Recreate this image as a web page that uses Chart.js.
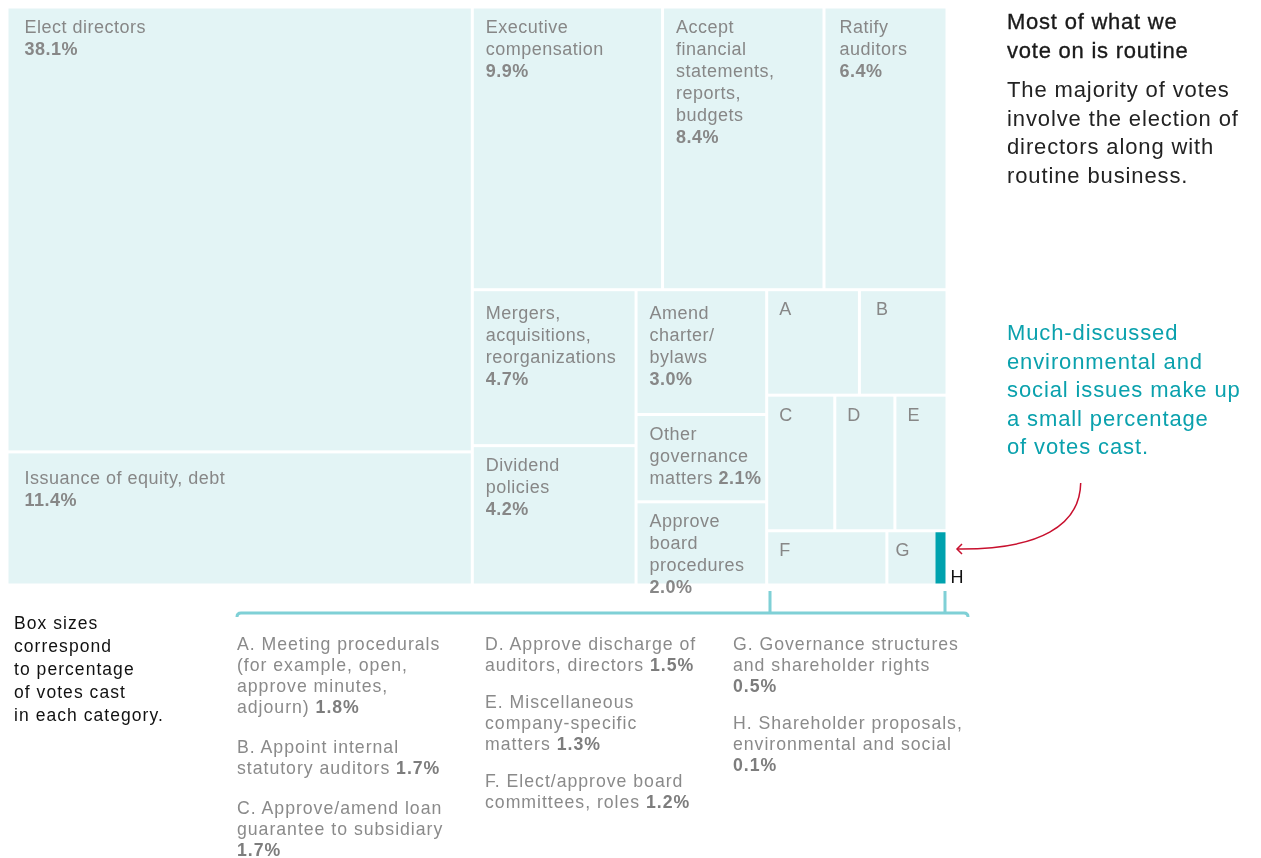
<!DOCTYPE html>
<html>
<head>
<meta charset="utf-8">
<script src="https://cdn.jsdelivr.net/npm/chart.js@4/dist/chart.umd.min.js"></script>
<style>
  body { margin: 0; background: #fff; font-family: "Liberation Sans", Arial, sans-serif; }
  #wrap { position: relative; width: 1261px; height: 858px; overflow: hidden; }
  #wrap canvas, #wrap svg { position: absolute; left: 0; top: 0; }
  .txt { position: absolute; white-space: nowrap; }
  .title { left: 1007px; top: 7px; font-size: 22px; line-height: 29px; color: #1a1a1a; letter-spacing: 0.035em; -webkit-text-stroke: 0.35px #1a1a1a; }
  .body { left: 1007px; top: 76px; font-size: 22px; line-height: 28.7px; color: #222; letter-spacing: 0.04em; }
  .teal { left: 1007px; top: 319px; font-size: 22px; line-height: 28.5px; color: #0aa1ad; letter-spacing: 0.04em; }
  .boxnote { left: 14px; top: 612px; font-size: 17.5px; line-height: 23px; color: #111; letter-spacing: 0.06em; }
  .legcol { top: 634px; font-size: 17.7px; line-height: 21px; color: #8a8a8a; letter-spacing: 0.055em; }
  .legcol div { margin-bottom: 16px; }
  .legcol.first div { margin-bottom: 19px; }
  .legcol b { color: #7d7d7d; }
</style>
</head>
<body>
<div id="wrap">
  <canvas id="tree" width="1261" height="858"></canvas>
  <svg width="1261" height="858">
    <path d="M237,617 Q237,613 241,613 L964,613 Q968,613 968,617" fill="none" stroke="#7fd0d6" stroke-width="3"/>
    <path d="M770,591 L770,613 M945,591 L945,613" fill="none" stroke="#7fd0d6" stroke-width="3"/>
    <path d="M1080.7,483 C1080,525 1040,550 957,549" fill="none" stroke="#c8102e" stroke-width="1.5"/>
    <path d="M962,544 L957,549 L962,554" fill="none" stroke="#c8102e" stroke-width="1.5"/>
  </svg>
  <div class="txt title">Most of what we<br>vote on is routine</div>
  <div class="txt body">The majority of votes<br>involve the election of<br>directors along with<br>routine business.</div>
  <div class="txt teal">Much-discussed<br>environmental and<br>social issues make up<br>a small percentage<br>of votes cast.</div>
  <div class="txt boxnote">Box sizes<br>correspond<br>to percentage<br>of votes cast<br>in each category.</div>
  <div id="legend"></div>
</div>
<script>
// share of votes cast by category (%); '\n' marks line breaks, a trailing '\n' puts the % on its own line
const categories = [
  'Elect directors\n',
  'Issuance of equity, debt\n',
  'Executive\ncompensation\n',
  'Accept\nfinancial\nstatements,\nreports,\nbudgets\n',
  'Ratify\nauditors\n',
  'Mergers,\nacquisitions,\nreorganizations\n',
  'Dividend\npolicies\n',
  'Amend\ncharter/\nbylaws\n',
  'Other\ngovernance\nmatters',
  'Approve\nboard\nprocedures\n',
  'Meeting procedurals\n(for example, open,\napprove minutes,\nadjourn)',
  'Appoint internal\nstatutory auditors',
  'Approve/amend loan\nguarantee to subsidiary\n',
  'Approve discharge of\nauditors, directors',
  'Miscellaneous\ncompany-specific\nmatters',
  'Elect/approve board\ncommittees, roles',
  'Governance structures\nand shareholder rights\n',
  'Shareholder proposals,\nenvironmental and social\n'
]
const shares = [38.1, 11.4, 9.9, 8.4, 6.4, 4.7, 4.2, 3.0, 2.1, 2.0, 1.8, 1.7, 1.7, 1.5, 1.3, 1.2, 0.5, 0.1]
const keys = [null, null, null, null, null, null, null, null, null, null, 'A', 'B', 'C', 'D', 'E', 'F', 'G', 'H']
const highlighted = [17]

// slice-and-dice nesting: 'x' = children side by side, 'y' = stacked
const tree = ['x', [
  ['y', [0, 1]],
  ['y', [
    ['x', [2, 3, 4]],
    ['x', [
      ['y', [5, 6]],
      ['y', [7, 8, 9]],
      ['y', [['x', [10, 11]], ['x', [12, 13, 14]], ['x', [15, 16, 17]]]]
    ]]
  ]]
]]
const legendColumns = [[10, 11, 12], [13, 14, 15], [16, 17]]
const labelOffset = {1: 31, 5: 28, 7: 28}
const labelInset = {0: 16, 1: 16, 4: 14, 11: 15, 16: 7}

function total(node) {
  if (typeof node === 'number') return shares[node]
  return node[1].reduce((s, n) => s + total(n), 0)
}
function layout(node, x0, y0, x1, y1, out) {
  if (typeof node === 'number') {
    out.push({i: node, x0, y0, x1, y1})
    return out
  }
  const [dir, kids] = node
  const sum = total(node)
  let pos = dir === 'x' ? x0 : y0
  kids.forEach(k => {
    const span = (dir === 'x' ? x1 - x0 : y1 - y0) * total(k) / sum
    if (dir === 'x') layout(k, pos, y0, pos + span, y1, out)
    else layout(k, x0, pos, x1, pos + span, out)
    pos += span
  })
  return out
}
const cells = layout(tree, 0, 0, 100, 100, [])
const fmt = v => v.toFixed(1) + '%'

const treemapPlugin = {
  id: 'treemap',
  afterDatasetsDraw(chart) {
    const ctx = chart.ctx
    const xs = chart.scales.x, ys = chart.scales.y
    const gap = 1.5
    ctx.save()
    cells.forEach(c => {
      const hot = highlighted.includes(c.i)
      // the tiny highlighted box is widened a little so it stays visible
      const left = xs.getPixelForValue(c.x0) + gap - (hot ? 3 : 0)
      const right = xs.getPixelForValue(c.x1) - gap
      const top = ys.getPixelForValue(c.y0) + gap
      const bottom = ys.getPixelForValue(c.y1) - gap
      ctx.fillStyle = hot ? '#00a2ae' : '#e3f4f5'
      ctx.fillRect(left, top, right - left, bottom - top)

      ctx.letterSpacing = '0.5px'
      ctx.textBaseline = 'alphabetic'
      if (hot) {
        ctx.fillStyle = '#111'
        ctx.font = '18px "Liberation Sans"'
        ctx.fillText(keys[c.i], right + 5, bottom - 1)
        return
      }
      ctx.fillStyle = '#878787'
      const tx = left + (labelInset[c.i] ?? (keys[c.i] ? 11 : 12))
      let ty = top + (labelOffset[c.i] || 24)
      if (keys[c.i]) {
        ctx.font = '18px "Liberation Sans"'
        ctx.fillText(keys[c.i], tx, ty)
        return
      }
      const lines = categories[c.i].split('\n')
      lines.forEach((ln, k) => {
        ctx.font = '18px "Liberation Sans"'
        ctx.fillText(ln, tx, ty)
        if (k === lines.length - 1) {
          const w = ln ? ctx.measureText(ln + ' ').width : 0
          ctx.font = 'bold 18px "Liberation Sans"'
          ctx.fillText(fmt(shares[c.i]), tx + w, ty)
        }
        ty += 22
      })
    })
    ctx.restore()
  }
}

new Chart(document.getElementById('tree'), {
  type: 'scatter',
  data: {datasets: [{data: []}]},
  options: {
    responsive: false,
    animation: false,
    devicePixelRatio: 1,
    layout: {padding: {left: 7, top: 7, right: 314, bottom: 273}},
    scales: {
      x: {type: 'linear', min: 0, max: 100, display: false},
      y: {type: 'linear', min: 0, max: 100, reverse: true, display: false}
    },
    plugins: {legend: {display: false}, tooltip: {enabled: false}}
  },
  plugins: [treemapPlugin]
})

// key for the lettered boxes
const legendEl = document.getElementById('legend')
const colLeft = [237, 485, 733]
legendColumns.forEach((col, ci) => {
  const div = document.createElement('div')
  div.className = 'txt legcol' + (ci === 0 ? ' first' : '')
  div.style.left = colLeft[ci] + 'px'
  div.innerHTML = col.map(i => {
    const text = (keys[i] + '. ' + categories[i]).split('\n').join('<br>')
    const sep = categories[i].endsWith('\n') ? '' : ' '
    return `<div>${text}${sep}<b>${fmt(shares[i])}</b></div>`
  }).join('')
  legendEl.appendChild(div)
})
</script>
</body>
</html>
